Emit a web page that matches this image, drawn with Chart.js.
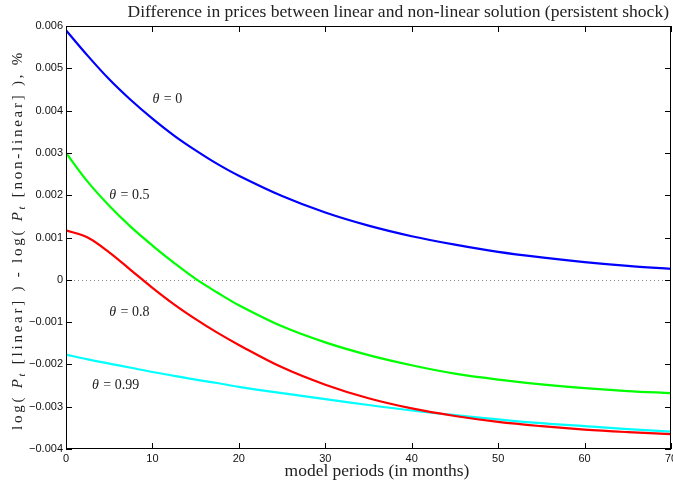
<!DOCTYPE html>
<html>
<head>
<meta charset="utf-8">
<script src="https://cdn.jsdelivr.net/npm/chart.js@4.4.0/dist/chart.umd.min.js"></script>
<style>
    html, body { margin: 0; padding: 0; background: #fff; }
    #wrap { width: 673px; height: 483px; }
</style>
</head>
<body>
<div id="wrap"><canvas id="priceChart" width="673" height="483"></canvas></div>
<script>
((document) => {
    'use strict';

    // Model periods (months)
    const months = [0, 2.5, 5, 7.5, 10, 12.5, 15, 17.5, 20, 25, 30, 35, 40, 45, 50, 55, 60, 65, 70];

    // log(P linear) - log(P non-linear), % for each theta
    const theta0 = [0.0059, 0.00530, 0.00474, 0.00425, 0.00381, 0.00341, 0.00306, 0.00274, 0.00246,
        0.00198, 0.00159, 0.00128, 0.00103, 0.00083, 0.00066, 0.00053, 0.00042, 0.00033, 0.00026];
    const theta05 = [0.0030, 0.00232, 0.00175, 0.00125, 0.00081, 0.00040, 0.00002, -0.00030, -0.00060,
        -0.00110, -0.00148, -0.00178, -0.00202, -0.00222, -0.00236, -0.00247, -0.00256, -0.00263, -0.00268];
    const theta08 = [0.00117, 0.00100, 0.00065, 0.00023, -0.00019, -0.00058, -0.00093, -0.00125, -0.00154,
        -0.00207, -0.00248, -0.00280, -0.00304, -0.00322, -0.00336, -0.00346, -0.00354, -0.00360, -0.00365];
    const theta099 = [-0.00177, -0.00188, -0.00198, -0.00208, -0.00218, -0.00227, -0.00236, -0.00244, -0.00253,
        -0.00268, -0.00282, -0.00296, -0.00309, -0.00320, -0.00330, -0.00339, -0.00346, -0.00353, -0.00359];

    const thetaNames = ['0', '0.5', '0.8', '0.99'];
    const xTicks = [0, 10, 20, 30, 40, 50, 60, 70];
    const yTicks = [-0.004, -0.003, -0.002, -0.001, 0, 0.001, 0.002, 0.003, 0.004, 0.005, 0.006];

    // Where the theta labels sit (data coords, left edge / middle)
    const labelSpots = [[10.0, 0.00427], [5.0, 0.0020], [5.0, -0.00077], [3.0, -0.0025]];

    const titleText = 'Difference in prices between linear and non-linear solution (persistent shock)';
    const serif = '"Liberation Serif", "DejaVu Serif", serif';

    function toPoints(values) {
        return months.map((m, i) => ({ x: m, y: values[i] }));
    }

    function line(values, color) {
        return {
            data: toPoints(values),
            borderColor: color,
            borderWidth: 2.2,
            pointRadius: 0,
            fill: false,
            tension: 0.35
        };
    }

    function formatY(value) {
        if (Math.abs(value) < 1e-9) return '0';
        return value.toFixed(3).replace('-', '\u2212');
    }

    // Fit a serif font so the text spans the wanted width
    function fitFont(ctx, text, base, target) {
        ctx.font = base + 'px ' + serif;
        const w = ctx.measureText(text).width;
        return base * target / w;
    }

    // Y title: pieces with italic P and subscript t, spaced out
    function drawYTitle(ctx, cxPos, cyPos, target) {
        const size = 15;
        const parts = [
            ['log( ', ''], ['P', 'italic'], ['t', 'sub'], [' [linear] ) - log( ', ''],
            ['P', 'italic'], ['t', 'sub'], [' [non-linear] ), %', '']
        ];
        const fontOf = kind => kind === 'italic' ? 'italic ' + size + 'px ' + serif
            : kind === 'sub' ? 'italic ' + (size * 0.7) + 'px ' + serif : size + 'px ' + serif;
        let total = 0;
        let count = 0;
        parts.forEach(p => {
            ctx.font = fontOf(p[1]);
            total += ctx.measureText(p[0]).width;
            count += p[0].length;
        });
        const gap = Math.max(0, (target - total) / count);
        ctx.save();
        ctx.translate(cxPos, cyPos);
        ctx.rotate(-Math.PI / 2);
        ctx.textAlign = 'left';
        ctx.textBaseline = 'alphabetic';
        let cx = -(total + gap * count) / 2;
        parts.forEach(p => {
            ctx.font = fontOf(p[1]);
            for (const ch of p[0]) {
                ctx.fillText(ch, cx, p[1] === 'sub' ? 3 : 0);
                cx += ctx.measureText(ch).width + gap;
            }
        });
        ctx.restore();
    }

    // Draw frame, inward ticks, zero line and texts
    const framePlugin = {
        id: 'frame',
        beforeDatasetsDraw(chart) {
            const { ctx, chartArea: a, scales: { y } } = chart;
            const y0 = Math.round(y.getPixelForValue(0)) + 0.5;
            ctx.save();
            ctx.strokeStyle = '#888';
            ctx.lineWidth = 1;
            ctx.setLineDash([1, 3]);
            ctx.beginPath();
            ctx.moveTo(a.left, y0);
            ctx.lineTo(a.right, y0);
            ctx.stroke();
            ctx.restore();
        },
        afterDraw(chart) {
            const { ctx, chartArea: a, scales: { x, y } } = chart;
            ctx.save();
            ctx.strokeStyle = '#000';
            ctx.lineWidth = 1;
            ctx.strokeRect(a.left + 0.5, a.top + 0.5, a.right - a.left - 1, a.bottom - a.top - 1);

            ctx.beginPath();
            xTicks.forEach(v => {
                const px = Math.round(x.getPixelForValue(v)) + 0.5;
                ctx.moveTo(px, a.bottom);
                ctx.lineTo(px, a.bottom - 6);
                ctx.moveTo(px, a.top);
                ctx.lineTo(px, a.top + 6);
            });
            yTicks.forEach(v => {
                const py = Math.round(y.getPixelForValue(v)) + 0.5;
                ctx.moveTo(a.left, py);
                ctx.lineTo(a.left + 6, py);
                ctx.moveTo(a.right, py);
                ctx.lineTo(a.right - 6, py);
            });
            ctx.stroke();

            ctx.fillStyle = '#222';

            // Title
            const tSize = fitFont(ctx, titleText, 14, 542);
            ctx.font = tSize + 'px ' + serif;
            ctx.textAlign = 'right';
            ctx.textBaseline = 'alphabetic';
            ctx.fillText(titleText, 669, 17);

            // X axis title
            const xt = 'model periods (in months)';
            const xSize = fitFont(ctx, xt, 14, 185);
            ctx.font = xSize + 'px ' + serif;
            ctx.textAlign = 'center';
            ctx.fillText(xt, 377, 476);

            drawYTitle(ctx, 22, 240, 380);

            // Theta labels
            ctx.textAlign = 'left';
            ctx.textBaseline = 'middle';
            thetaNames.forEach((name, i) => {
                let px = x.getPixelForValue(labelSpots[i][0]);
                const py = y.getPixelForValue(labelSpots[i][1]);
                ctx.font = 'italic 14px ' + serif;
                ctx.fillText('\u03b8', px, py);
                px += ctx.measureText('\u03b8').width;
                ctx.font = '14px ' + serif;
                ctx.fillText(' = ' + name, px + 1, py);
            });
            ctx.restore();
        }
    };

    const config = {
        type: 'line',
        data: {
            datasets: [
                line(theta0, '#0000ff'),
                line(theta05, '#00ff00'),
                line(theta08, '#ff0000'),
                line(theta099, '#00ffff')
            ]
        },
        options: {
            responsive: false,
            animation: false,
            layout: { padding: { top: 26, right: 2, left: 0, bottom: 0 } },
            plugins: {
                legend: { display: false },
                title: { display: false },
                tooltip: { enabled: false }
            },
            scales: {
                x: {
                    type: 'linear',
                    min: 0,
                    max: 70,
                    afterBuildTicks: scale => { scale.ticks = xTicks.map(v => ({ value: v })); },
                    afterFit: scale => {
                        scale.height = 34;
                        scale.paddingLeft = 0;
                        scale.paddingRight = 0;
                    },
                    border: { display: false },
                    grid: { display: false, drawTicks: false },
                    ticks: {
                        padding: 3,
                        maxRotation: 0,
                        color: '#111',
                        font: { family: '"Liberation Sans", Arial, sans-serif', size: 11 }
                    }
                },
                y: {
                    min: -0.004,
                    max: 0.006,
                    afterBuildTicks: scale => { scale.ticks = yTicks.map(v => ({ value: v })); },
                    afterFit: scale => {
                        scale.width = 66;
                        scale.paddingTop = 0;
                        scale.paddingBottom = 0;
                    },
                    border: { display: false },
                    grid: { display: false, drawTicks: false },
                    ticks: {
                        padding: 3,
                        color: '#111',
                        font: { family: '"Liberation Sans", Arial, sans-serif', size: 11 },
                        callback: value => formatY(value)
                    }
                }
            }
        },
        plugins: [framePlugin]
    };

    // Draw Chart
    new Chart(document.getElementById('priceChart'), config);
})(document);
</script>
</body>
</html>
